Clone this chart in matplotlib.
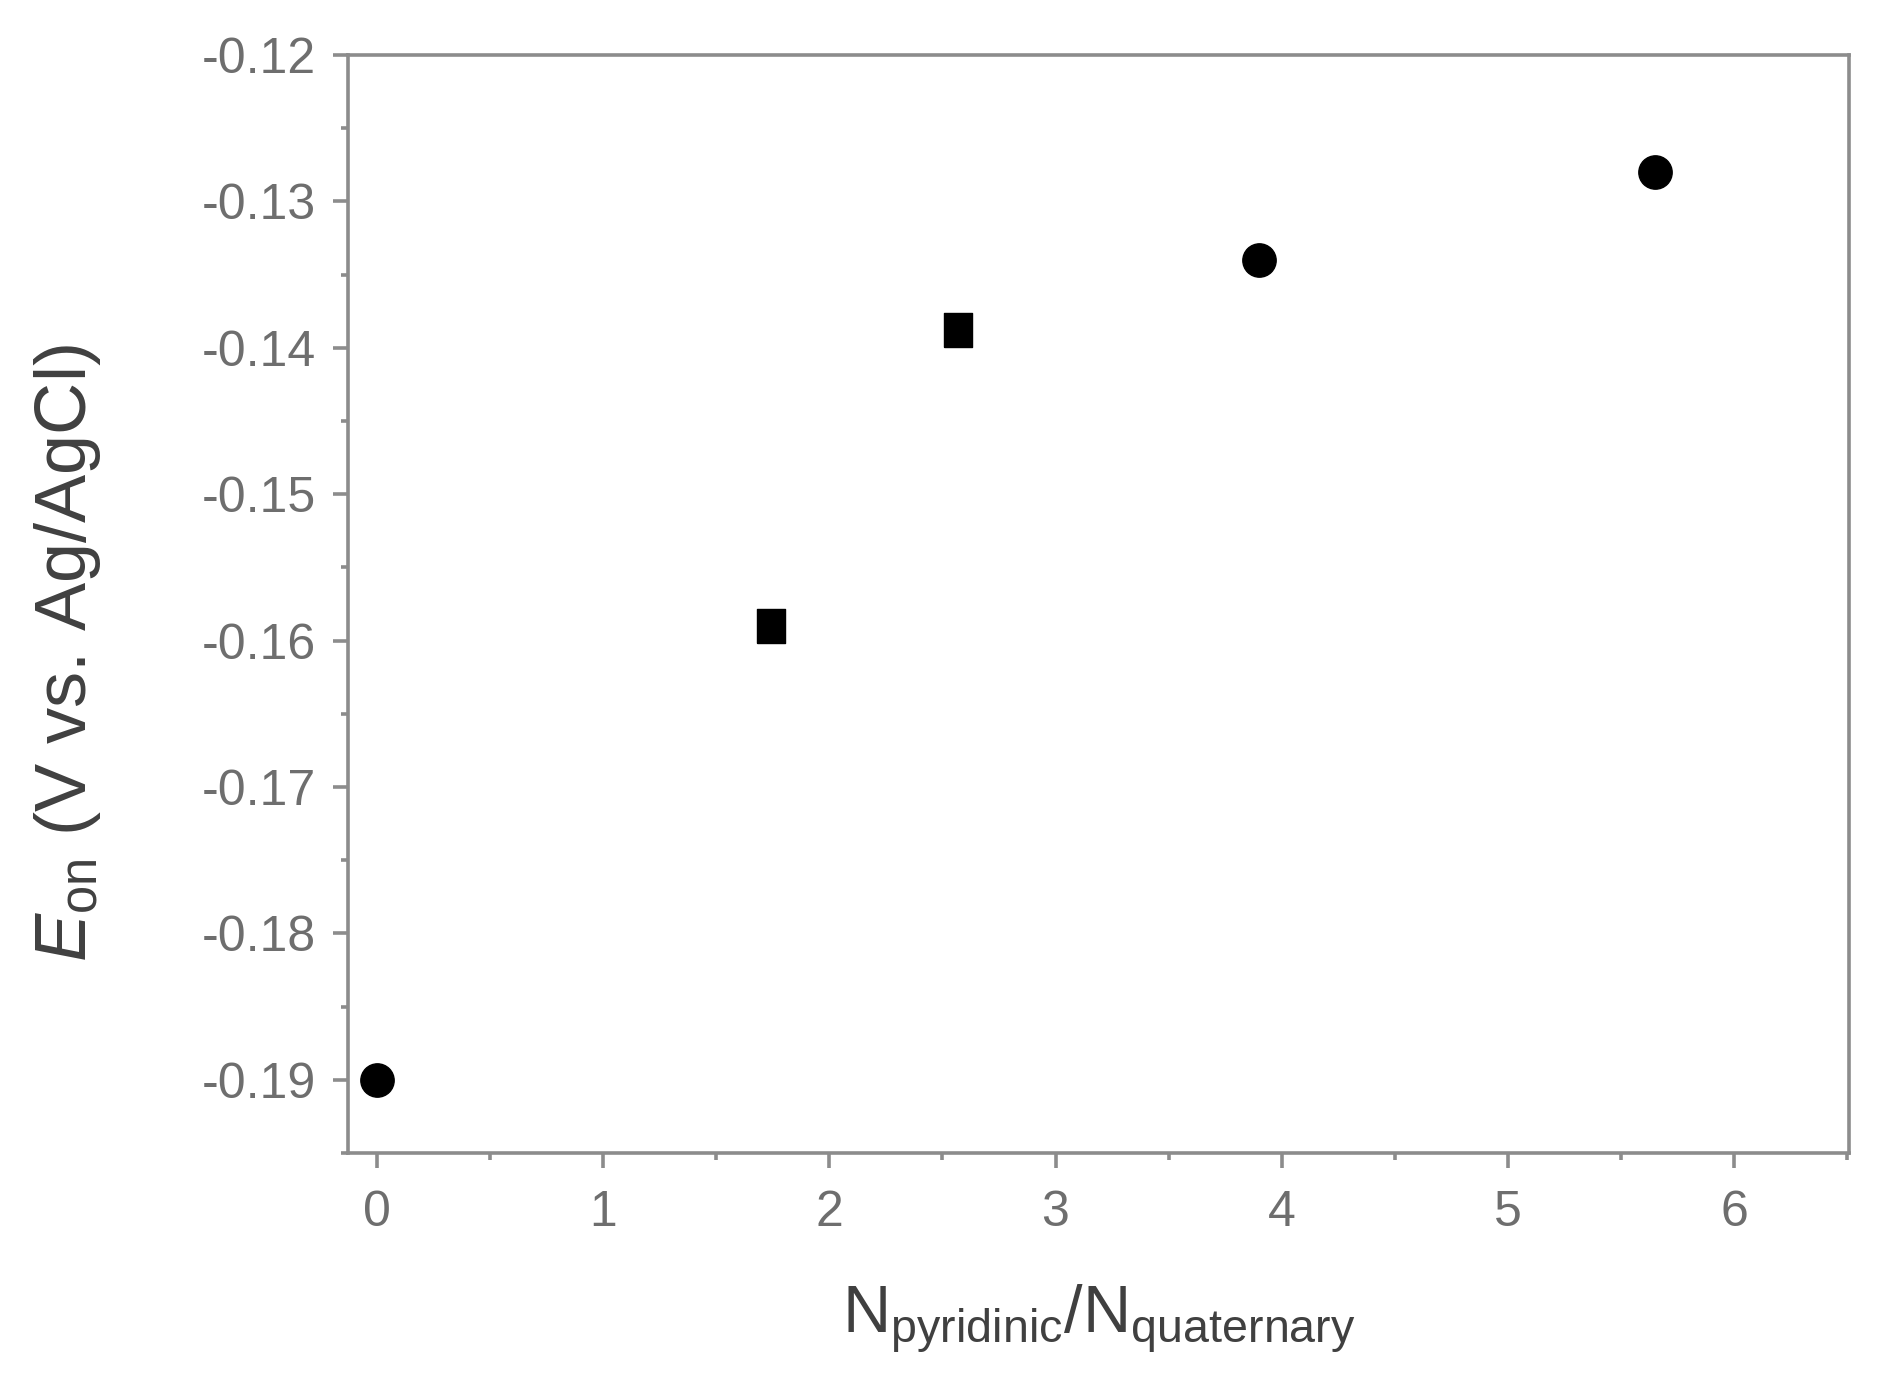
import matplotlib
matplotlib.use("Agg")
import matplotlib.pyplot as plt
from matplotlib.ticker import MultipleLocator

# données
ratio_circle = [0.0, 3.90, 5.65]
eon_circle = [-0.190, -0.134, -0.128]
ratio_square = [1.74, 2.57]
eon_square = [-0.159, -0.1388]

x_ticks = [0, 1, 2, 3, 4, 5, 6]
y_ticks = [-0.19, -0.18, -0.17, -0.16, -0.15, -0.14, -0.13, -0.12]

plt.rcParams['font.family'] = ['Liberation Sans', 'DejaVu Sans']
plt.rcParams['axes.unicode_minus'] = False
plt.rcParams['mathtext.fontset'] = 'custom'
plt.rcParams['mathtext.rm'] = 'Liberation Sans'
plt.rcParams['mathtext.it'] = 'Liberation Sans:italic'

axis_col = '#8c8c8c'
tick_text = '#6e6e6e'
label_col = '#404040'

fig = plt.figure(figsize=(18.77, 13.97), dpi=100)
ax = fig.add_axes([0.1854, 0.1747, 0.7997, 0.7859])

# marqueur rectangulaire (un peu plus haut que large)
rect = [(-0.39, -0.5), (0.39, -0.5), (0.39, 0.5), (-0.39, 0.5), (-0.39, -0.5)]
ax.plot(ratio_circle, eon_circle, 'o', color='black', markersize=24, zorder=3)
ax.plot(ratio_square, eon_square, linestyle='none', marker=rect, color='black',
        markersize=25, zorder=3)

ax.set_xlim(-0.128, 6.508)
ax.set_ylim(-0.195, -0.12)
ax.set_xticks(x_ticks)
ax.set_yticks(y_ticks)
ax.xaxis.set_minor_locator(MultipleLocator(0.5))
ax.yaxis.set_minor_locator(MultipleLocator(0.005))

for s in ax.spines.values():
    s.set_color(axis_col)
    s.set_linewidth(2.6)

ax.tick_params(which='both', direction='out', color=axis_col, width=2.6,
               top=False, right=False)
ax.tick_params(which='major', length=11, labelsize=36, labelcolor=tick_text, pad=12)
ax.tick_params(axis='x', which='major', pad=16)
ax.tick_params(which='minor', length=5)

ax.set_xlabel(r'N$_{\mathrm{pyridinic}}$/N$_{\mathrm{quaternary}}$',
              fontsize=48, color=label_col, labelpad=33)
ax.set_ylabel(r'$E_{\mathrm{on}}$ (V vs. Ag/AgCl)', fontsize=52, color=label_col)
ax.yaxis.set_label_coords(-0.163, 0.455)

fig.savefig('out.png', dpi=100, facecolor='white')
